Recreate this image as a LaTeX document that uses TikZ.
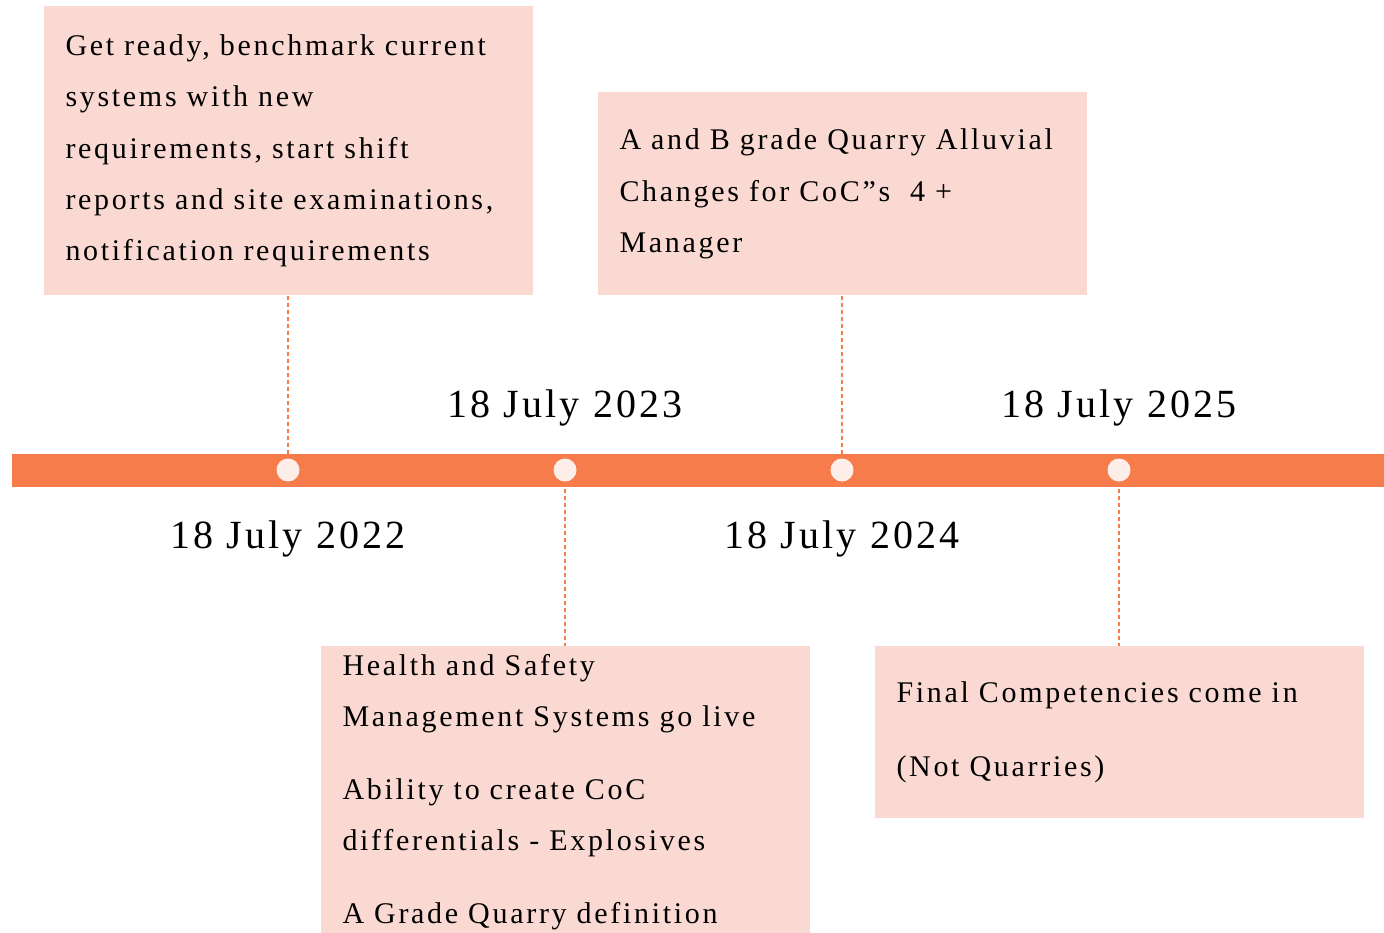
\documentclass[tikz,border=0pt]{standalone}
\usepackage{fontspec}
\setmainfont{Liberation Serif}[LetterSpace=9]
\newfontfamily\datefont{Liberation Serif}[LetterSpace=8]
\usepackage{xcolor}
\usetikzlibrary{positioning}
\definecolor{barorange}{HTML}{F67D4B}
\definecolor{boxpink}{HTML}{FAD9D3}
\definecolor{dotwhite}{HTML}{FDEEEA}

\begin{document}
\begin{tikzpicture}[x=0.5pt,y=-0.5pt,
  dot/.style={circle,fill=dotwhite,inner sep=0pt,minimum size=11.5pt},
  event/.style={fill=boxpink,text width=222.5pt,inner xsep=11pt,inner ysep=4pt,
    align=left,anchor=north,font=\fontsize{15}{25.7}\selectfont},
  datelabel/.style={font=\datefont\fontsize{20}{24}\selectfont,anchor=base},
  link/.style={barorange,line width=0.7pt,dash pattern=on 2pt off 1.5pt}]
\useasboundingbox (0,0) rectangle (1384,932);
% timeline bar
\fill[barorange] (12,454) rectangle (1384,487);
% milestones on the bar
\node[dot] (d22) at (288,470) {};
\node[dot] (d23) at (565,470) {};
\node[dot] (d24) at (842,470) {};
\node[dot] (d25) at (1119,470) {};
% dates
\node[datelabel] (t22) at ([yshift=-39pt]d22) {18 July 2022};
\node[datelabel] (t23) at ([yshift=26.5pt]d23) {18 July 2023};
\node[datelabel] (t24) at ([yshift=-39pt]d24) {18 July 2024};
\node[datelabel] (t25) at ([yshift=26.5pt]d25) {18 July 2025};
% event boxes
\node[event,minimum height=144.5pt] (b22) at (288,6)
  {Get ready, benchmark current\\ systems with new\\ requirements, start shift\\
   reports and site examinations,\\ notification requirements};
\node[event,minimum height=101.5pt] (b24) at (842,92)
  {A and B grade Quarry Alluvial\\ Changes for CoC''s~~4 +\\ Manager};
\node[event] (b23) at (565,646)
  {Health and Safety\\ Management Systems go live\\[10.5pt]
   Ability to create CoC\\ differentials - Explosives\\[10.5pt]
   A Grade Quarry definition};
\node[event,minimum height=86pt] (b25) at (1119,646)
  {Final Competencies come in\\[11pt] (Not Quarries)};
% dashed links
\draw[link] (b22.south) -- (d22.north);
\draw[link] (b24.south) -- (d24.north);
\draw[link] (d23.south) -- (b23.north);
\draw[link] (d25.south) -- (b25.north);
\end{tikzpicture}
\end{document}
